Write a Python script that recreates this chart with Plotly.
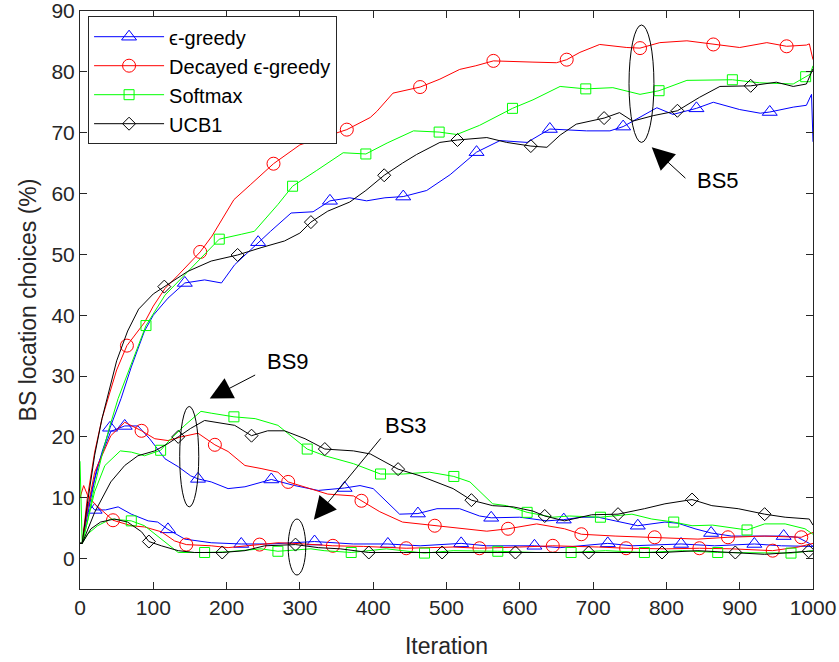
import plotly.graph_objects as go

# ---------------- data ----------------
# epsilon-greedy
eps_bs5_x = [0, 3, 10, 20, 30, 41, 56, 70, 88, 100, 120, 143, 170, 193, 211, 243, 260, 288, 318, 341, 368, 391, 416, 441, 473, 505, 541, 573, 610, 641, 655, 691, 723, 741, 787, 809, 841, 864, 900, 928, 941, 973, 991, 998, 1000]
eps_bs5_y = [2.5, 2.5, 7, 13, 17.5, 21.5, 26.3, 31.5, 37.4, 40, 42.8, 45.3, 45.8, 45.3, 48.3, 52, 53.8, 56.8, 57, 58.8, 59.3, 58.8, 59.3, 59.5, 60.5, 63.1, 66.8, 68.7, 68.4, 70.6, 70.5, 70.3, 70.3, 71, 74.1, 73, 74, 75, 73.8, 73.2, 73.4, 74.2, 74.5, 76.3, 68.5]
eps_bs5_mk = [41, 143, 243, 341, 441, 541, 641, 741, 841, 941]

eps_bs9_x = [0, 3, 10, 24, 42, 61, 79, 95, 116, 134, 151, 161, 179, 202, 225, 261, 293, 325, 361, 382, 400, 419, 436, 461, 487, 518, 545, 561, 600, 637, 660, 684, 707, 730, 761, 798, 816, 839, 861, 889, 916, 960, 979, 995, 1000]
eps_bs9_y = [2.5, 2.5, 8, 15.3, 20.9, 21.8, 21.8, 19.7, 16.4, 15.1, 13.6, 13.1, 12.6, 11.5, 11.8, 13, 12, 11.2, 11.6, 12, 11.5, 9.3, 7.3, 7.4, 8.2, 8.2, 7, 6.7, 6.8, 6.2, 6.4, 6.8, 6.8, 6.2, 5.4, 6, 5.8, 4.9, 4.2, 3.7, 3.7, 3.7, 3.5, 2.5, 2]
eps_bs9_mk = [61, 161, 261, 361, 461, 561, 660, 761, 861, 960]

eps_bs3_x = [0, 3, 11, 20, 35, 52, 70, 93, 106, 120, 143, 179, 220, 260, 290, 320, 373, 420, 464, 520, 555, 620, 655, 720, 753, 820, 866, 920, 957, 995, 1000]
eps_bs3_y = [2.5, 2.5, 9.3, 8, 8, 8.5, 7.3, 6.2, 6, 4.8, 3.2, 2.6, 2.4, 2.4, 2.6, 2.8, 2.4, 2.4, 2.1, 2.5, 2.1, 2.1, 1.8, 2.5, 2.1, 2.4, 2.1, 2.4, 2.1, 2.1, 2]
eps_bs3_mk = [20, 120, 220, 320, 420, 520, 620, 720, 820, 920]

# decayed epsilon-greedy
dec_bs5_x = [0, 3, 10, 20, 30, 42, 50, 64, 88, 100, 116, 134, 164, 180, 195, 210, 233, 264, 300, 345, 364, 396, 405, 427, 464, 491, 518, 540, 564, 618, 650, 664, 682, 709, 746, 764, 791, 828, 864, 900, 937, 964, 991, 995, 1000]
dec_bs5_y = [2.5, 2.5, 10, 17.5, 23, 28, 31, 35, 38.8, 41.5, 44.4, 46.6, 50.4, 53, 56, 59, 61.5, 64.9, 68, 69.7, 70.5, 72.5, 73.5, 76.5, 77.5, 78.8, 80.4, 81, 81.8, 81.6, 81.5, 82, 83.2, 84.5, 84, 83.9, 84.8, 85.1, 84.5, 84, 84.8, 84.2, 84.4, 84.6, 82]
dec_bs5_mk = [64, 164, 264, 364, 464, 564, 664, 764, 864, 964]

dec_bs9_x = [0, 3, 10, 20, 42, 61, 84, 102, 120, 138, 161, 175, 184, 202, 225, 247, 270, 284, 315, 338, 373, 384, 409, 440, 484, 518, 555, 584, 623, 661, 684, 730, 784, 843, 884, 934, 984, 1000]
dec_bs9_y = [2.5, 2.5, 8, 14.2, 20.2, 22.4, 21, 19.7, 19.4, 20, 20.6, 19.4, 18.7, 17.6, 15.3, 14.8, 14.2, 12.6, 11.5, 10.6, 10.3, 9.5, 7.7, 6, 5.4, 4.9, 4.5, 4.9, 5.7, 4.9, 4, 3.7, 3.5, 3.2, 3.5, 3.7, 3.5, 4.3]
dec_bs9_mk = [84, 184, 284, 384, 484, 584, 684, 784, 884, 984]

dec_bs3_x = [0, 5, 10, 20, 45, 70, 88, 111, 129, 145, 179, 202, 245, 270, 292, 315, 345, 387, 445, 509, 545, 600, 645, 707, 745, 800, 845, 889, 945, 980, 1000]
dec_bs3_y = [10, 12, 10.5, 9, 6.3, 5.4, 5.2, 4.4, 2.9, 2.3, 2.1, 1.8, 2.3, 2.6, 2.5, 2.3, 2.1, 2, 1.7, 1.9, 1.7, 1.9, 2.1, 1.9, 1.7, 1.6, 1.7, 1.6, 1.3, 1.9, 2.5]
dec_bs3_mk = [45, 145, 245, 345, 445, 545, 645, 745, 845, 945]

# softmax
sof_bs5_x = [0, 3, 10, 20, 30, 40, 52, 70, 90, 116, 147, 170, 190, 220, 238, 270, 290, 323, 359, 390, 419, 455, 490, 514, 545, 590, 618, 655, 690, 727, 764, 790, 828, 890, 927, 973, 990, 996, 1000]
sof_bs5_y = [2.5, 2.5, 6, 12, 17, 21.5, 26.3, 32, 38.3, 43.3, 47.2, 50, 52.5, 53.3, 53.8, 58.2, 61.2, 63.8, 66.7, 66.5, 68.3, 70.3, 70.1, 69.7, 71.2, 74, 75.4, 77.6, 77.2, 77.4, 76.3, 76.9, 78.6, 78.7, 78.2, 78, 79.2, 79.6, 81]
sof_bs5_mk = [90, 190, 290, 390, 490, 590, 690, 790, 890, 990]

sof_bs9_x = [0, 3, 10, 20, 34, 55, 70, 88, 110, 124, 143, 165, 179, 210, 239, 270, 310, 334, 373, 410, 441, 477, 510, 532, 563, 582, 610, 645, 668, 710, 753, 780, 810, 835, 863, 910, 934, 962, 989, 1000]
sof_bs9_y = [16, 2.5, 6, 11, 15.3, 17.7, 17.5, 16.9, 17.8, 19.7, 21.9, 24.2, 23.9, 23.3, 23, 21.9, 18, 16.9, 15.6, 13.9, 13.9, 14.2, 13.5, 12.6, 9, 8.7, 7.6, 6.8, 7, 6.8, 7.3, 6.5, 6, 5.4, 5.5, 4.7, 5.7, 5.7, 4.9, 4]
sof_bs9_mk = [110, 210, 310, 410, 510, 610, 710, 810, 910]

sof_bs3_x = [0, 3, 10, 24, 42, 70, 88, 111, 134, 170, 200, 247, 270, 315, 333, 370, 418, 470, 509, 570, 622, 670, 717, 770, 822, 870, 916, 970, 1000]
sof_bs3_y = [2.5, 2.5, 4, 5.4, 6.5, 6.2, 5.4, 3.2, 1, 1, 1.1, 1.6, 1.2, 1.6, 1.3, 1, 1.6, 0.9, 1.3, 1.2, 1, 1, 1.3, 1, 1.3, 1, 1, 0.9, 1.3]
sof_bs3_mk = [70, 170, 270, 370, 470, 570, 670, 770, 870, 970]

# UCB1
ucb_bs5_x = [0, 3, 10, 20, 30, 40, 50, 65, 80, 100, 115, 147, 179, 215, 247, 279, 300, 315, 338, 368, 390, 415, 440, 459, 491, 515, 555, 582, 615, 637, 655, 677, 715, 736, 754, 782, 815, 845, 873, 915, 950, 973, 991, 998, 1000]
ucb_bs5_y = [2.5, 2.5, 9, 17, 23, 28, 32.5, 37.4, 41, 43.5, 44.7, 47.2, 48.9, 49.9, 51.1, 52.2, 53.5, 55.3, 57.1, 58.6, 60.5, 63, 65, 66.4, 68.4, 68.8, 69.2, 68.4, 67.8, 67.6, 69.6, 71.4, 72.4, 73.3, 71.9, 72.8, 73.6, 75.8, 77.6, 77.7, 78.3, 77.6, 78, 80, 80.5]
ucb_bs5_mk = [115, 215, 315, 415, 515, 615, 715, 815, 915]

ucb_bs9_x = [0, 3, 20, 42, 61, 79, 102, 120, 134, 151, 170, 188, 211, 234, 256, 279, 307, 334, 373, 396, 434, 464, 509, 534, 563, 591, 618, 634, 661, 698, 734, 770, 798, 835, 862, 898, 934, 962, 995, 1000]
ucb_bs9_y = [2.5, 2.5, 7.6, 12.6, 15.3, 16.9, 17.7, 18.9, 20, 21.4, 22.7, 22.4, 21.9, 20.2, 21, 21, 19.7, 18, 17.7, 17.2, 14.7, 13.6, 11.5, 9.6, 8.7, 8.5, 7.8, 7, 6.2, 7.2, 7.3, 8.2, 9, 9.7, 8.7, 8.2, 7.3, 6.8, 6.5, 5.5]
ucb_bs9_mk = [134, 234, 334, 434, 534, 634, 734, 835, 934]

ucb_bs3_x = [0, 3, 15, 28, 47, 65, 84, 94, 111, 134, 156, 194, 225, 252, 294, 325, 355, 394, 441, 494, 545, 594, 645, 694, 753, 794, 843, 894, 934, 994, 1000]
ucb_bs3_y = [2.5, 2.5, 4.9, 6, 6.5, 6, 4.4, 2.8, 2.1, 1.3, 1, 1, 1.3, 2.1, 2.3, 1.8, 1.6, 1, 1, 1, 1, 1, 1, 1, 0.9, 1, 1.3, 1, 0.7, 1.2, 1.2]
ucb_bs3_mk = [94, 194, 294, 394, 494, 594, 694, 794, 894, 994]

legend_names = ["\u03f5-greedy", "Decayed \u03f5-greedy", "Softmax", "UCB1"]
y_ticks = [0, 10, 20, 30, 40, 50, 60, 70, 80, 90]
x_ticks = [0, 100, 200, 300, 400, 500, 600, 700, 800, 900, 1000]

# ---------------- styles ----------------
styles = {
    "eps": dict(color="#0000FF", symbol="triangle-up-open", size=13),
    "dec": dict(color="#FF0000", symbol="circle-open", size=13),
    "sof": dict(color="#00FF00", symbol="square-open", size=10),
    "ucb": dict(color="#000000", symbol="diamond-open", size=10),
}
algo_keys = ["eps", "dec", "sof", "ucb"]

series = [
    ("eps", eps_bs5_x, eps_bs5_y, eps_bs5_mk), ("eps", eps_bs9_x, eps_bs9_y, eps_bs9_mk), ("eps", eps_bs3_x, eps_bs3_y, eps_bs3_mk),
    ("dec", dec_bs5_x, dec_bs5_y, dec_bs5_mk), ("dec", dec_bs9_x, dec_bs9_y, dec_bs9_mk), ("dec", dec_bs3_x, dec_bs3_y, dec_bs3_mk),
    ("sof", sof_bs5_x, sof_bs5_y, sof_bs5_mk), ("sof", sof_bs9_x, sof_bs9_y, sof_bs9_mk), ("sof", sof_bs3_x, sof_bs3_y, sof_bs3_mk),
    ("ucb", ucb_bs5_x, ucb_bs5_y, ucb_bs5_mk), ("ucb", ucb_bs9_x, ucb_bs9_y, ucb_bs9_mk), ("ucb", ucb_bs3_x, ucb_bs3_y, ucb_bs3_mk),
]

fig = go.Figure()
for key, xs, ys, mk in series:
    st = styles[key]
    fig.add_trace(go.Scatter(x=xs, y=ys, mode="lines", showlegend=False,
                             line=dict(color=st["color"], width=1), hoverinfo="skip"))
    lookup = dict(zip(xs, ys))
    fig.add_trace(go.Scatter(x=mk, y=[lookup[v] for v in mk], mode="markers", showlegend=False,
                             marker=dict(symbol=st["symbol"], size=st["size"], color=st["color"],
                                         line=dict(color=st["color"], width=1)), hoverinfo="skip"))

for key, name in zip(algo_keys, legend_names):
    st = styles[key]
    fig.add_trace(go.Scatter(x=[None], y=[None], mode="lines+markers", name=name,
                             line=dict(color=st["color"], width=1),
                             marker=dict(symbol=st["symbol"], size=st["size"], color=st["color"],
                                         line=dict(color=st["color"], width=1))))

# ellipses
fig.add_shape(type="circle", xref="x", yref="y", x0=749, x1=783, y0=68.4, y1=87.7, line=dict(color="black", width=1))
fig.add_shape(type="circle", xref="x", yref="y", x0=136, x1=162, y0=8.5, y1=25, line=dict(color="black", width=1))
fig.add_shape(type="circle", xref="x", yref="y", x0=284, x1=308, y0=-2.7, y1=6.5, line=dict(color="black", width=1))

# arrows
arrows = [(780, 67.6, 828, 62.3), (177, 26.3, 241, 30.3), (319, 6.4, 412, 20)]
for hx, hy, tx, ty in arrows:
    fig.add_annotation(x=hx, y=hy, ax=tx, ay=ty, xref="x", yref="y", axref="x", ayref="y",
                       text="", showarrow=True, arrowhead=2, arrowsize=4.5, arrowwidth=1, arrowcolor="black")
labels = [("BS5", 870, 62.1), ("BS9", 284, 32.4), ("BS3", 445, 21.9)]
for txt, lx, ly in labels:
    fig.add_annotation(x=lx, y=ly, xref="x", yref="y", text=txt, showarrow=False,
                       font=dict(size=22, color="black", family="Liberation Sans, Arial, sans-serif"))

axis_common = dict(showline=True, linecolor="#262626", linewidth=1, mirror="ticks", ticks="inside",
                   ticklen=7, tickcolor="#262626", tickwidth=1, showgrid=False, zeroline=False,
                   automargin=False, ticklabeloverflow="allow",
                   tickfont=dict(size=21, color="#262626", family="Liberation Sans, Arial, sans-serif"))

fig.update_layout(
    width=839, height=662,
    margin=dict(l=80, r=26, t=11, b=73),
    plot_bgcolor="white", paper_bgcolor="white",
    font=dict(family="Liberation Sans, Arial, sans-serif", color="#262626"),
    xaxis=dict(range=[0, 1000], tickvals=x_ticks,
               title=dict(text="Iteration", font=dict(size=23, color="#262626"), standoff=19), **axis_common),
    yaxis=dict(range=[-5, 90], tickvals=y_ticks,
               title=dict(text="BS location choices (%)", font=dict(size=23, color="#262626"), standoff=8), **axis_common),
    legend=dict(x=0.011, y=0.991, xanchor="left", yanchor="top", bgcolor="white",
                bordercolor="#262626", borderwidth=1, font=dict(size=20, color="black"),
                itemwidth=70, tracegroupgap=0),
)

fig.write_html("out.html")
